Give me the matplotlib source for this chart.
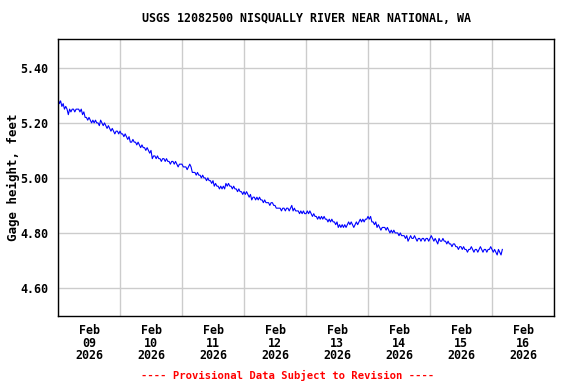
import numpy as np
import pandas as pd
import matplotlib
matplotlib.use("Agg")
import matplotlib.pyplot as plt
import matplotlib.dates as mdates

# gage height, feet, 30-minute readings per day
feb09 = [5.29, 5.27, 5.28, 5.26, 5.27, 5.25, 5.26, 5.25, 5.23, 5.25, 5.24, 5.25,
         5.25, 5.24, 5.25, 5.25, 5.25, 5.24, 5.25, 5.23, 5.24, 5.22, 5.22, 5.21,
         5.22, 5.21, 5.20, 5.21, 5.20, 5.21, 5.20, 5.20, 5.19, 5.21, 5.20, 5.19,
         5.20, 5.19, 5.18, 5.19, 5.18, 5.17, 5.18, 5.17, 5.16, 5.17, 5.17, 5.16]
feb10 = [5.17, 5.16, 5.16, 5.15, 5.16, 5.15, 5.14, 5.15, 5.13, 5.13, 5.14, 5.13,
         5.13, 5.12, 5.13, 5.12, 5.11, 5.12, 5.11, 5.11, 5.10, 5.11, 5.10, 5.09,
         5.10, 5.07, 5.08, 5.08, 5.07, 5.08, 5.07, 5.07, 5.06, 5.07, 5.07, 5.06,
         5.07, 5.06, 5.06, 5.05, 5.06, 5.06, 5.05, 5.06, 5.05, 5.04, 5.05, 5.05]
feb11 = [5.05, 5.04, 5.04, 5.04, 5.03, 5.04, 5.05, 5.04, 5.02, 5.02, 5.02, 5.01,
         5.02, 5.01, 5.01, 5.00, 5.01, 5.00, 5.00, 4.99, 5.00, 4.99, 4.99, 4.98,
         4.99, 4.97, 4.98, 4.97, 4.97, 4.96, 4.97, 4.96, 4.97, 4.96, 4.98, 4.97,
         4.98, 4.97, 4.97, 4.96, 4.97, 4.96, 4.96, 4.95, 4.96, 4.95, 4.95, 4.94]
feb12 = [4.95, 4.94, 4.95, 4.94, 4.93, 4.94, 4.92, 4.93, 4.93, 4.92, 4.93, 4.92,
         4.93, 4.92, 4.92, 4.91, 4.92, 4.91, 4.91, 4.91, 4.90, 4.91, 4.91, 4.90,
         4.90, 4.89, 4.89, 4.89, 4.89, 4.88, 4.89, 4.89, 4.88, 4.89, 4.89, 4.88,
         4.89, 4.90, 4.88, 4.89, 4.88, 4.88, 4.88, 4.87, 4.88, 4.87, 4.88, 4.87]
feb13 = [4.87, 4.88, 4.87, 4.88, 4.87, 4.86, 4.87, 4.86, 4.86, 4.85, 4.86, 4.85,
         4.86, 4.85, 4.86, 4.85, 4.85, 4.84, 4.85, 4.84, 4.85, 4.84, 4.84, 4.83,
         4.84, 4.82, 4.83, 4.82, 4.83, 4.82, 4.83, 4.82, 4.83, 4.84, 4.83, 4.84,
         4.83, 4.82, 4.83, 4.84, 4.83, 4.84, 4.85, 4.84, 4.85, 4.84, 4.85, 4.85]
feb14 = [4.86, 4.85, 4.86, 4.84, 4.84, 4.83, 4.84, 4.82, 4.83, 4.82, 4.81, 4.82,
         4.82, 4.82, 4.81, 4.82, 4.81, 4.80, 4.81, 4.80, 4.81, 4.80, 4.80, 4.80,
         4.79, 4.80, 4.79, 4.79, 4.79, 4.78, 4.79, 4.77, 4.78, 4.79, 4.78, 4.78,
         4.79, 4.78, 4.77, 4.78, 4.78, 4.77, 4.78, 4.78, 4.77, 4.78, 4.78, 4.77]
feb15 = [4.78, 4.79, 4.78, 4.77, 4.78, 4.77, 4.76, 4.78, 4.77, 4.77, 4.78, 4.77,
         4.77, 4.76, 4.77, 4.76, 4.76, 4.75, 4.76, 4.76, 4.75, 4.75, 4.74, 4.75,
         4.75, 4.74, 4.75, 4.74, 4.74, 4.73, 4.74, 4.74, 4.75, 4.74, 4.73, 4.74,
         4.74, 4.73, 4.74, 4.75, 4.74, 4.73, 4.74, 4.74, 4.73, 4.74, 4.74, 4.75]
feb16 = [4.74, 4.73, 4.74, 4.73, 4.72, 4.74, 4.73, 4.72, 4.74]

gage = feb09 + feb10 + feb11 + feb12 + feb13 + feb14 + feb15 + feb16
times = pd.date_range("2026-02-09 00:00", periods=len(gage), freq="30min")

y_ticks = [4.60, 4.80, 5.00, 5.20, 5.40]
title = "USGS 12082500 NISQUALLY RIVER NEAR NATIONAL, WA"
footer = "---- Provisional Data Subject to Revision ----"

font = "DejaVu Sans Mono"
fs = 8.4

fig = plt.figure(figsize=(5.76, 3.84), dpi=100)
ax = fig.add_axes([58 / 576, 1 - 316 / 384, 496 / 576, 277 / 384])

ax.plot(times, gage, color="#0000ff", linewidth=0.8)

ax.set_xlim(pd.Timestamp("2026-02-09"), pd.Timestamp("2026-02-17"))
ax.set_ylim(4.498, 5.505)

ax.xaxis.set_major_locator(mdates.DayLocator())
ax.xaxis.set_major_formatter(plt.NullFormatter())
ax.xaxis.set_minor_locator(mdates.HourLocator(byhour=[12]))
ax.xaxis.set_minor_formatter(mdates.DateFormatter("%b\n%d\n%Y"))
ax.set_yticks(y_ticks)
ax.set_yticklabels([f"{v:.2f}" for v in y_ticks])

ax.grid(True, which="major", color="#cccccc", linewidth=1)
ax.set_axisbelow(True)
ax.tick_params(which="both", length=0)
ax.tick_params(axis="x", which="minor", pad=6)
ax.tick_params(axis="y", pad=7)
for lab in ax.get_xticklabels(minor=True) + ax.get_yticklabels():
    lab.set_fontfamily(font)
    lab.set_fontweight("bold")
    lab.set_fontsize(fs)
for lab in ax.get_xticklabels(minor=True):
    lab.set_linespacing(0.95)
for sp in ax.spines.values():
    sp.set_color("black")
    sp.set_linewidth(1)

fig.text(13 / 576, 1 - 177 / 384, "Gage height, feet", rotation=90, ha="center", va="center",
         fontfamily=font, fontweight="bold", fontsize=fs + 0.6)
fig.text(307 / 576, 1 - 19 / 384, title, ha="center", va="center",
         fontfamily=font, fontweight="bold", fontsize=fs)
fig.text(288 / 576, 1 - 375 / 384, footer, ha="center", va="center",
         fontfamily=font, fontweight="bold", fontsize=7.6, color="red")

fig.savefig("out.png", dpi=100)
